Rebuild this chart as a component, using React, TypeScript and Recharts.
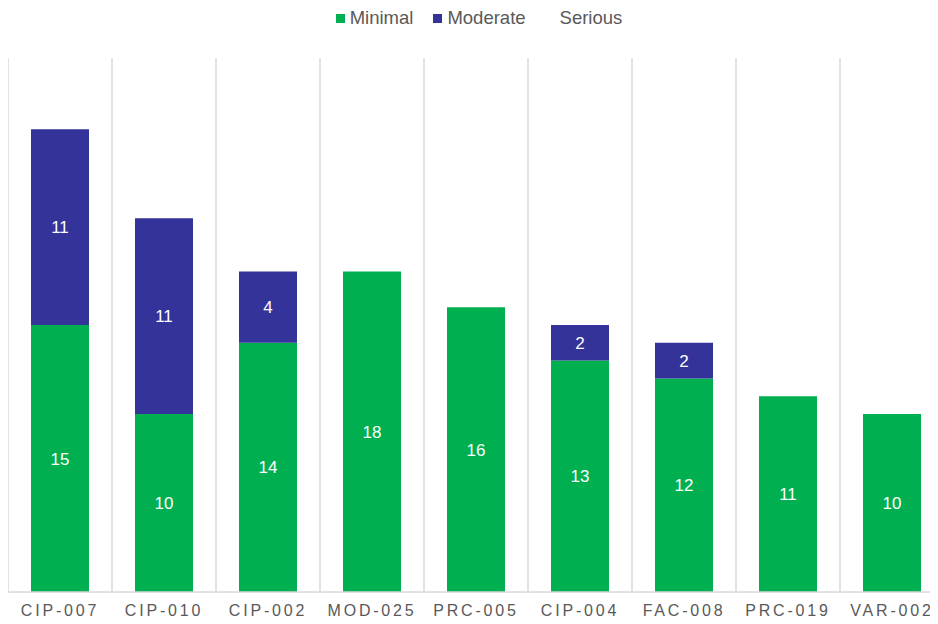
import { useLayoutEffect } from "react";
import { BarChart, Bar, XAxis, YAxis, CartesianGrid, LabelList } from "recharts";

/* ── Data ─────────────────────────────────────────────────── */

const categories = [
  "CIP-007",
  "CIP-010",
  "CIP-002",
  "MOD-025",
  "PRC-005",
  "CIP-004",
  "FAC-008",
  "PRC-019",
  "VAR-002",
];
const minimal = [15, 10, 14, 18, 16, 13, 12, 11, 10];
const moderate = [11, 11, 4, 0, 0, 2, 2, 0, 0];
const serious = [0, 0, 0, 0, 0, 0, 0, 0, 0];

const seriesInfo = [
  { key: "Minimal", color: "#00B050" },
  { key: "Moderate", color: "#333399" },
  { key: "Serious", color: "#FFFFFF" },
];

const chartData = categories.map((c, i) => ({
  name: c,
  Minimal: minimal[i],
  Moderate: moderate[i],
  Serious: serious[i],
}));

const FONT = "'Liberation Sans', Arial, sans-serif";
const GREY = "#595959";

/* ── Legend ───────────────────────────────────────────────── */

function TopLegend() {
  return (
    <div
      style={{
        width: 930,
        height: 50,
        display: "flex",
        justifyContent: "center",
        alignItems: "flex-start",
        paddingLeft: 12,
        paddingTop: 1,
        boxSizing: "border-box",
        fontFamily: FONT,
        fontSize: 18.5,
        color: GREY,
      }}
    >
      {seriesInfo.map((s, i) => (
        <div
          key={s.key}
          style={{
            display: "flex",
            alignItems: "center",
            marginLeft: i === 0 ? 0 : 20,
            lineHeight: "18px",
          }}
        >
          <span
            style={{
              display: "inline-block",
              width: 9,
              height: 9,
              background: s.color,
              marginRight: 5,
            }}
          />
          {s.key}
        </div>
      ))}
    </div>
  );
}

const hideZero = (v: any) => (v ? v : "");

/* ── Chart ────────────────────────────────────────────────── */

export default function App() {
  // chart runs past the right edge of the window, like the original
  useLayoutEffect(() => {
    document.body.style.overflow = "hidden";
  }, []);

  return (
    <div style={{ width: 936, height: 616, background: "#fff" }}>
      <TopLegend />
      <BarChart
        width={936}
        height={566}
        data={chartData}
        margin={{ top: 0, right: 0, bottom: 0, left: 0 }}
        barSize={58}
      >
        <CartesianGrid
          horizontal={false}
          stroke="#D9D9D9"
          strokeWidth={1.5}
          verticalCoordinatesGenerator={({ offset }: any) =>
            categories.map((_, i) => offset.left + (i * offset.width) / categories.length)
          }
        />
        <XAxis
          dataKey="name"
          height={32}
          axisLine={{ stroke: "#D9D9D9", strokeWidth: 1.5 }}
          tickLine={false}
          interval={0}
          tick={{ fill: GREY, fontSize: 16, fontFamily: FONT, letterSpacing: 2.8 }}
          tickMargin={7}
        />
        <YAxis hide domain={[0, 30]} />
        <Bar dataKey="Minimal" stackId="a" fill="#00B050" isAnimationActive={false}>
          <LabelList
            dataKey="Minimal"
            position="center"
            fill="#FFFFFF"
            fontSize={17}
            fontFamily={FONT}
            formatter={hideZero}
          />
        </Bar>
        <Bar dataKey="Moderate" stackId="a" fill="#333399" isAnimationActive={false}>
          <LabelList
            dataKey="Moderate"
            position="center"
            fill="#FFFFFF"
            fontSize={17}
            fontFamily={FONT}
            formatter={hideZero}
          />
        </Bar>
        <Bar dataKey="Serious" stackId="a" fill="#C00000" isAnimationActive={false} />
      </BarChart>
    </div>
  );
}
